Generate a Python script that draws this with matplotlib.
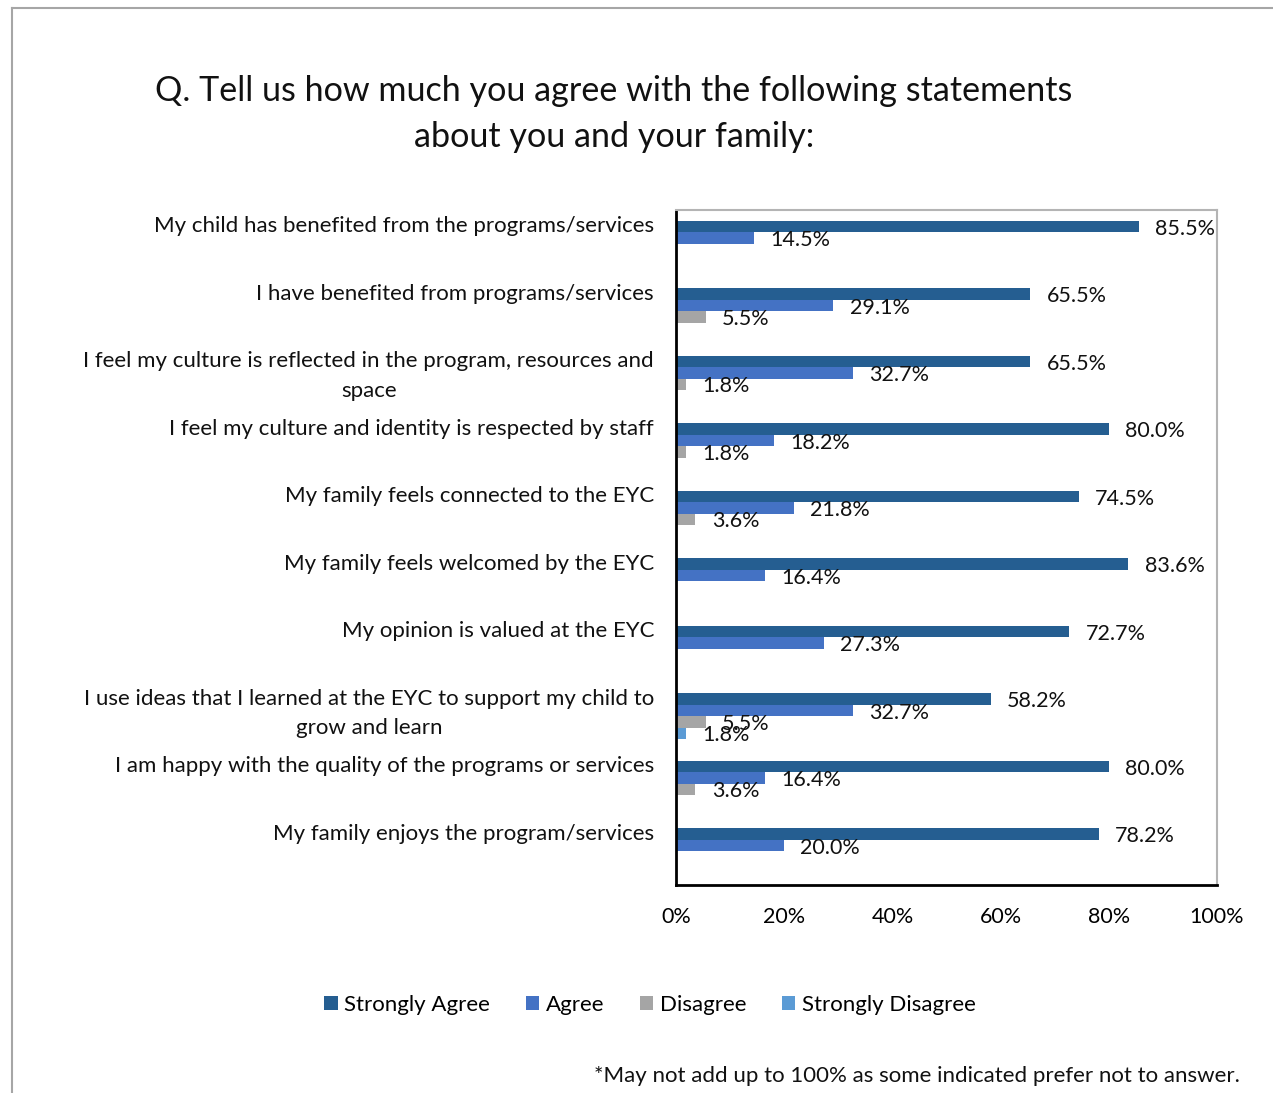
import numpy as np
import matplotlib
matplotlib.use("Agg")
from matplotlib import pyplot as plt
from matplotlib.patches import Patch
from matplotlib.lines import Line2D

plt.rcParams['font.family'] = ['Lato', 'DejaVu Sans']

# Survey statements, top to bottom
statements = [
    "My child has benefited from the programs/services",
    "I have benefited from programs/services",
    "I feel my culture is reflected in the program, resources and\nspace",
    "I feel my culture and identity is respected by staff",
    "My family feels connected to the EYC",
    "My family feels welcomed by the EYC",
    "My opinion is valued at the EYC",
    "I use ideas that I learned at the EYC to support my child to\ngrow and learn",
    "I am happy with the quality of the programs or services",
    "My family enjoys the program/services",
]

# Response shares in percent
strongly_agree = [85.5, 65.5, 65.5, 80.0, 74.5, 83.6, 72.7, 58.2, 80.0, 78.2]
agree = [14.5, 29.1, 32.7, 18.2, 21.8, 16.4, 27.3, 32.7, 16.4, 20.0]
disagree = [0, 5.5, 1.8, 1.8, 3.6, 0, 0, 5.5, 3.6, 0]
strongly_disagree = [0, 0, 0, 0, 0, 0, 0, 1.8, 0, 0]

series = ["Strongly Agree", "Agree", "Disagree", "Strongly Disagree"]
colors = ["#255E91", "#4472C4", "#A5A5A5", "#5B9BD5"]
x_ticks = [0, 20, 40, 60, 80, 100]

W, H = 1273, 1093
fig = plt.figure(figsize=(W / 100, H / 100), dpi=100)
ax = fig.add_axes([676 / W, 1 - 885 / H, (1217 - 676) / W, (885 - 210) / H])

y = np.arange(len(statements))
bar_h = 0.17
px_per_unit = 67.5
for k, (name, vals, col) in enumerate(zip(series, [strongly_agree, agree, disagree, strongly_disagree], colors)):
    offs = (k - 1.5) * bar_h
    vals = np.array(vals)
    mask = vals > 0
    ax.barh(y[mask] + offs, vals[mask], height=bar_h, color=col, label=name)
    for yi, v in zip(y[mask], vals[mask]):
        ax.text(v + 3.0, yi + offs + 2 / px_per_unit, f"{v:.1f}%", ha='left', va='center',
                fontsize=15.5, color='#111111')

ax.set_ylim(len(statements) - 0.5, -0.5)
ax.set_xlim(0, 100)
ax.set_yticks([])
ax.set_xticks(x_ticks)
ax.set_xticklabels([f"{t}%" for t in x_ticks], fontsize=15.5)
ax.tick_params(axis='x', length=0, pad=16)

for side in ['left', 'bottom']:
    ax.spines[side].set_color('black')
    ax.spines[side].set_linewidth(2)
for side in ['top', 'right']:
    ax.spines[side].set_color('#B4B4B4')
    ax.spines[side].set_linewidth(1.5)

# statement labels left of the plot area
for i, s in enumerate(statements):
    ax.text(-22 / 5.41, i - 0.5 + 0.09, s, ha='right', va='top', multialignment='center',
            fontsize=16, linespacing=1.62, color='#111111')

fig.text(614 / W, 1 - 114 / H, "Q. Tell us how much you agree with the following statements\nabout you and your family:",
         ha='center', va='center', fontsize=24.6, linespacing=1.52, color='#111111')

handles = [Patch(facecolor=c, edgecolor='none') for c in colors]
fig.legend(handles, series, loc='center', bbox_to_anchor=(650 / W, 1 - 1005 / H), ncol=4,
           frameon=False, fontsize=16, handlelength=0.6, handleheight=0.6,
           handletextpad=0.3, columnspacing=1.6)

fig.text(1240 / W, 1 - 1076 / H, "*May not add up to 100% as some indicated prefer not to answer.",
         ha='right', va='center', fontsize=16, color='#111111')

# outer page frame
fig.add_artist(Line2D([12 / W, 12 / W], [0, 1 - 8 / H], color='#A6A6A6', lw=1.5))
fig.add_artist(Line2D([12 / W, 1], [1 - 8 / H, 1 - 8 / H], color='#A6A6A6', lw=1.5))

fig.savefig("out.png", dpi=100, facecolor='white')
